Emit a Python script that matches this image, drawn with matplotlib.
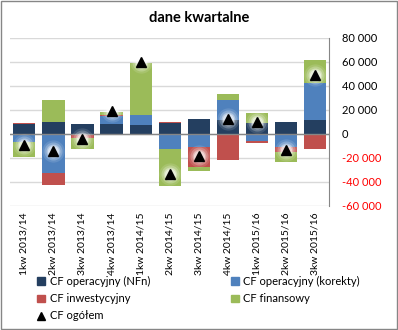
import numpy as np
import matplotlib.pyplot as plt
import matplotlib.patches as mpatches
from matplotlib.lines import Line2D

# Quarterly cash-flow data
quarters = ['1kw 2013/14', '2kw 2013/14', '3kw 2013/14', '4kw 2013/14',
            '1kw 2014/15', '2kw 2014/15', '3kw 2014/15', '4kw 2014/15',
            '1kw 2015/16', '2kw 2015/16', '3kw 2015/16']
cf_nfn = [8600, 10300, 8600, 8600, 7800, 9400, 12800, 11900, 9400, 10300, 11900]
cf_korekty = [-6400, -32200, -400, 6700, 8300, -12800, -10600, 16700, -6100, -11100, 30800]
cf_inwest = [800, -10600, -3200, 800, 0, 800, -17200, -21900, -1700, -4200, -12800]
cf_finans = [-12500, 18300, -9200, 2500, 43300, -30800, -3300, 5000, 8300, -8300, 19200]
cf_total = [-9400, -14400, -4200, 19000, 59800, -33300, -18200, 12300, 9900, -13800, 49000]

series_names = ['CF operacyjny (NFn)', 'CF operacyjny (korekty)', 'CF inwestycyjny', 'CF finansowy']
series_colors = ['#243F60', '#4F81BD', '#C0504D', '#9BBB59']

plt.rcParams['font.family'] = ['Lato', 'DejaVu Sans']

fig = plt.figure(figsize=(3.98, 3.30), dpi=100)
ax = fig.add_axes([0.025, 0.376, 0.802, 0.509])

x = np.arange(len(quarters))
pos_bottom = np.zeros(len(quarters))
neg_bottom = np.zeros(len(quarters))
for vals, color in zip([cf_nfn, cf_korekty, cf_inwest, cf_finans], series_colors):
    vals = np.array(vals, dtype=float)
    bottoms = np.where(vals >= 0, pos_bottom, neg_bottom)
    ax.bar(x, vals, width=0.76, bottom=bottoms, color=color, zorder=2)
    pos_bottom += np.where(vals > 0, vals, 0)
    neg_bottom += np.where(vals < 0, vals, 0)

# soft glow behind the total markers
for ms, a in [(16, 0.12), (13, 0.22), (10, 0.35), (8, 0.5)]:
    ax.plot(x, cf_total, linestyle='none', marker='o', ms=ms, color='white',
            alpha=a, markeredgewidth=0, zorder=3)
ax.plot(x, cf_total, linestyle='none', marker='^', ms=7, color='black', zorder=4)

ax.axhline(0, color='#868686', linewidth=1.0, zorder=2.5)
ax.set_ylim(-60000, 80000)
ax.set_xlim(-0.5, len(quarters) - 0.5)
yt = np.arange(-60000, 80001, 20000)
ax.set_yticks(yt)
ax.yaxis.tick_right()
ax.set_yticklabels([f'{v:,}'.replace(',', ' ') for v in yt], fontsize=8)
for lbl, v in zip(ax.get_yticklabels(), yt):
    lbl.set_color('red' if v < 0 else 'black')
ax.tick_params(axis='y', length=0, pad=9)
ax.grid(axis='y', color='#D9D9D9', linewidth=1.0, zorder=0)
ax.set_xticks(x)
ax.set_xticklabels(quarters, rotation=90, fontsize=7.5)
ax.tick_params(axis='x', length=0, pad=5)
for side in ['top', 'left', 'bottom']:
    ax.spines[side].set_visible(False)
ax.spines['right'].set_color('#868686')

fig.text(0.5, 0.945, 'dane kwartalne', ha='center', va='center',
         fontsize=10.5, fontweight='bold')

handles = [mpatches.Patch(color=c, label=n) for c, n in zip(series_colors, series_names)]
tri = Line2D([], [], linestyle='none', marker='^', color='black', ms=6, label='CF ogółem')
order = [handles[0], handles[2], tri, handles[1], handles[3]]
fig.legend(handles=order, ncol=2, loc='upper left', bbox_to_anchor=(0.08, 0.18),
           frameon=False, fontsize=8, handlelength=0.7, handleheight=0.7,
           handletextpad=0.4, columnspacing=7.3, labelspacing=0.55, borderpad=0)

fig.patches.append(mpatches.Rectangle((0.002, 0.002), 0.996, 0.994, transform=fig.transFigure,
                                      fill=False, edgecolor='#868686', linewidth=1.0))

fig.savefig('out.png', dpi=100)
